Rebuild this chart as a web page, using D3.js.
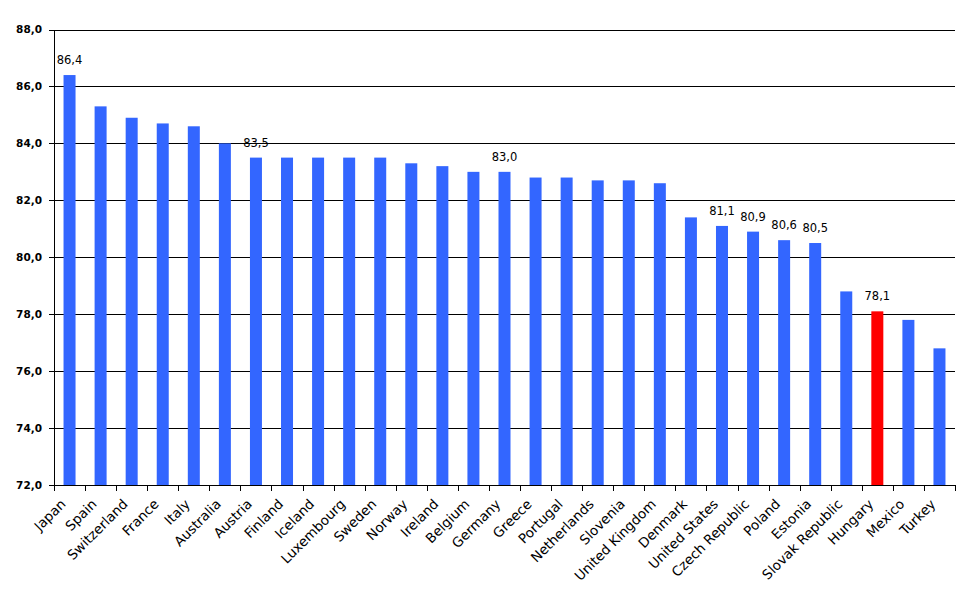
<!DOCTYPE html>
<meta charset="utf-8">
<style>
  body { margin: 0; background: #fff; }
  .grid line { stroke: #000; stroke-width: 1px; shape-rendering: crispEdges; }
  .axis path, .axis line { stroke: #000; shape-rendering: crispEdges; }
  .y.axis text { font: bold 10.5px "DejaVu Sans", sans-serif; fill: #000; }
  .x.axis text { font: 13.5px "DejaVu Sans", sans-serif; fill: #000; }
  .labels text { font: 11.5px "DejaVu Sans", sans-serif; fill: #000; }
</style>
<svg width="970" height="604"></svg>
<script src="https://cdn.jsdelivr.net/npm/d3@7"></script>
<script>

  var countries = ["Japan", "Spain", "Switzerland", "France", "Italy", "Australia", "Austria",
    "Finland", "Iceland", "Luxembourg", "Sweden", "Norway", "Ireland", "Belgium", "Germany",
    "Greece", "Portugal", "Netherlands", "Slovenia", "United Kingdom", "Denmark",
    "United States", "Czech Republic", "Poland", "Estonia", "Slovak Republic", "Hungary",
    "Mexico", "Turkey"];
  var values = [86.4, 85.3, 84.9, 84.7, 84.6, 84.0, 83.5,
    83.5, 83.5, 83.5, 83.5, 83.3, 83.2, 83.0, 83.0,
    82.8, 82.8, 82.7, 82.7, 82.6, 81.4,
    81.1, 80.9, 80.6, 80.5, 78.8, 78.1,
    77.8, 76.8];
  // countries whose value is written above the bar
  var labelled = ["Japan", "Austria", "Germany", "United States", "Czech Republic",
    "Poland", "Estonia", "Hungary"];
  var highlight = "Hungary";
  var yTicks = [72, 74, 76, 78, 80, 82, 84, 86, 88];

  var data = countries.map(function (c, i) { return { name: c, value: values[i] }; });

  var svg = d3.select("svg"),
      mLeft = 54, mRight = 955, mTop = 29.5, mBottom = 485;

  var x = d3.scaleBand().domain(countries).range([mLeft, mRight]).paddingInner(0).paddingOuter(0);
  var y = d3.scaleLinear().domain([72, 88]).range([mBottom, mTop]);
  var fmt = function (v) { return d3.format(".1f")(v).replace(".", ","); };

  // horizontal grid
  svg.append("g").attr("class", "grid")
    .selectAll("line").data(yTicks.slice(1)).enter().append("line")
    .attr("x1", mLeft).attr("x2", mRight)
    .attr("y1", function (d) { return Math.round(y(d)) + 0.5; })
    .attr("y2", function (d) { return Math.round(y(d)) + 0.5; });

  // bars
  var bw = 12;
  svg.append("g").selectAll("rect").data(data).enter().append("rect")
    .attr("x", function (d) { return x(d.name) + x.bandwidth() / 2 - bw / 2; })
    .attr("width", bw)
    .attr("y", function (d) { return y(d.value); })
    .attr("height", function (d) { return mBottom - y(d.value); })
    .attr("fill", function (d) { return d.name === highlight ? "#ff0000" : "#3366ff"; });

  // value labels
  svg.append("g").attr("class", "labels")
    .selectAll("text").data(data.filter(function (d) { return labelled.indexOf(d.name) >= 0; }))
    .enter().append("text")
    .attr("x", function (d) { return x(d.name) + x.bandwidth() / 2; })
    .attr("y", function (d) { return y(d.value) - 11; })
    .attr("text-anchor", "middle")
    .text(function (d) { return fmt(d.value); });

  // y axis
  svg.append("g").attr("class", "y axis")
    .attr("transform", "translate(" + mLeft + ",0)")
    .call(d3.axisLeft(y).tickValues(yTicks).tickSize(5).tickPadding(7).tickFormat(fmt));

  // x axis: ticks at category boundaries
  var xg = svg.append("g").attr("class", "x axis");
  xg.append("line").attr("x1", mLeft).attr("x2", mRight)
    .attr("y1", mBottom + 0.5).attr("y2", mBottom + 0.5);
  var bounds = countries.map(function (c) { return x(c); }).concat([mRight]);
  xg.selectAll(".tk").data(bounds).enter().append("line").attr("class", "tk")
    .attr("x1", function (d) { return Math.round(d) + 0.5; })
    .attr("x2", function (d) { return Math.round(d) + 0.5; })
    .attr("y1", mBottom).attr("y2", mBottom + 6);
  xg.selectAll("text").data(countries).enter().append("text")
    .attr("text-anchor", "end")
    .attr("transform", function (d) {
      return "translate(" + (x(d) + x.bandwidth() / 2 - 3) + "," + (mBottom + 20) + ") rotate(-45)";
    })
    .text(function (d) { return d; });

</script>
